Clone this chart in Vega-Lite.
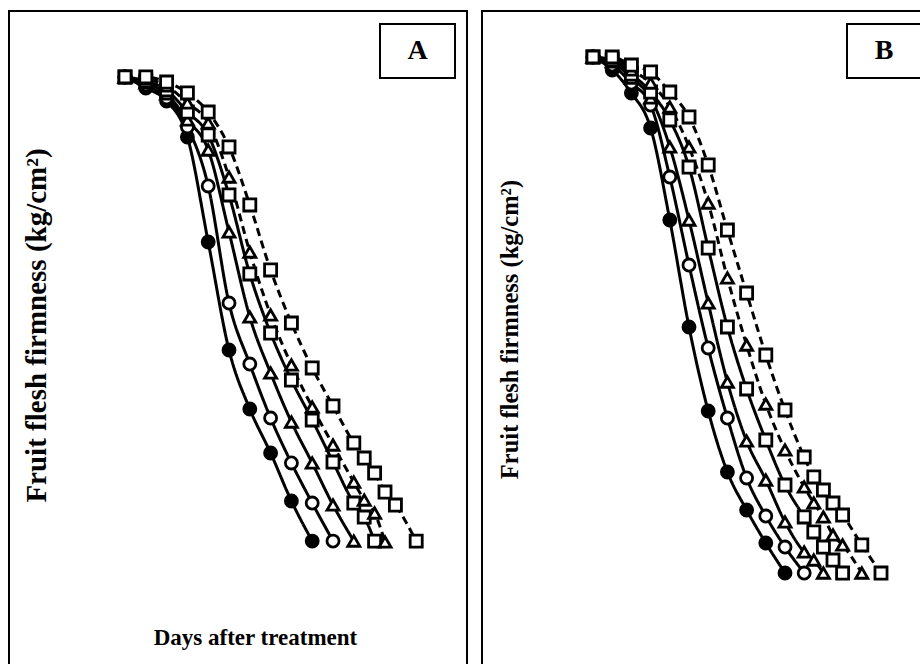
{
  "$schema": "https://vega.github.io/schema/vega-lite/v6.json",
  "padding": {"left": 8, "top": 10, "right": 0, "bottom": 0},
  "background": "white",
  "spacing": 13,
  "config": {
    "view": {"stroke": null},
    "axis": {"grid": false, "domain": false, "ticks": false, "labels": false, "minExtent": 0, "titleFont": "Liberation Serif", "titleFontWeight": "bold", "titleColor": "black"}
  },
  "resolve": {"scale": {"x": "independent", "y": "independent", "shape": "independent", "fill": "independent", "size": "independent", "strokeDash": "independent"}},
  "datasets": {
    "firm": [
      {"panel":"A","series":"S1","day":0,"firmness":8},{"panel":"A","series":"S1","day":2,"firmness":7.838},{"panel":"A","series":"S1","day":4,"firmness":7.647},{"panel":"A","series":"S1","day":6,"firmness":7.118},{"panel":"A","series":"S1","day":8,"firmness":5.574},{"panel":"A","series":"S1","day":10,"firmness":3.985},{"panel":"A","series":"S1","day":12,"firmness":3.118},{"panel":"A","series":"S1","day":14,"firmness":2.471},{"panel":"A","series":"S1","day":16,"firmness":1.765},{"panel":"A","series":"S1","day":18,"firmness":1.176},
      {"panel":"A","series":"S2","day":0,"firmness":8},{"panel":"A","series":"S2","day":2,"firmness":7.882},{"panel":"A","series":"S2","day":4,"firmness":7.691},{"panel":"A","series":"S2","day":6,"firmness":7.265},{"panel":"A","series":"S2","day":8,"firmness":6.397},{"panel":"A","series":"S2","day":10,"firmness":4.676},{"panel":"A","series":"S2","day":12,"firmness":3.779},{"panel":"A","series":"S2","day":14,"firmness":2.985},{"panel":"A","series":"S2","day":16,"firmness":2.324},{"panel":"A","series":"S2","day":18,"firmness":1.735},{"panel":"A","series":"S2","day":20,"firmness":1.176},
      {"panel":"A","series":"S3","day":0,"firmness":8},{"panel":"A","series":"S3","day":2,"firmness":7.912},{"panel":"A","series":"S3","day":4,"firmness":7.75},{"panel":"A","series":"S3","day":6,"firmness":7.368},{"panel":"A","series":"S3","day":8,"firmness":6.926},{"panel":"A","series":"S3","day":10,"firmness":5.721},{"panel":"A","series":"S3","day":12,"firmness":4.471},{"panel":"A","series":"S3","day":14,"firmness":3.647},{"panel":"A","series":"S3","day":16,"firmness":2.926},{"panel":"A","series":"S3","day":18,"firmness":2.324},{"panel":"A","series":"S3","day":20,"firmness":1.706},{"panel":"A","series":"S3","day":22,"firmness":1.176},
      {"panel":"A","series":"S4","day":0,"firmness":8},{"panel":"A","series":"S4","day":2,"firmness":7.941},{"panel":"A","series":"S4","day":4,"firmness":7.809},{"panel":"A","series":"S4","day":6,"firmness":7.485},{"panel":"A","series":"S4","day":8,"firmness":7.147},{"panel":"A","series":"S4","day":10,"firmness":6.265},{"panel":"A","series":"S4","day":12,"firmness":5.103},{"panel":"A","series":"S4","day":14,"firmness":4.235},{"panel":"A","series":"S4","day":16,"firmness":3.544},{"panel":"A","series":"S4","day":18,"firmness":2.956},{"panel":"A","series":"S4","day":20,"firmness":2.338},{"panel":"A","series":"S4","day":22,"firmness":1.735},{"panel":"A","series":"S4","day":23,"firmness":1.529},{"panel":"A","series":"S4","day":24,"firmness":1.176},
      {"panel":"A","series":"S5","day":0,"firmness":8},{"panel":"A","series":"S5","day":2,"firmness":7.971},{"panel":"A","series":"S5","day":4,"firmness":7.868},{"panel":"A","series":"S5","day":6,"firmness":7.618},{"panel":"A","series":"S5","day":8,"firmness":7.324},{"panel":"A","series":"S5","day":10,"firmness":6.529},{"panel":"A","series":"S5","day":12,"firmness":5.426},{"panel":"A","series":"S5","day":14,"firmness":4.5},{"panel":"A","series":"S5","day":16,"firmness":3.765},{"panel":"A","series":"S5","day":18,"firmness":3.147},{"panel":"A","series":"S5","day":20,"firmness":2.588},{"panel":"A","series":"S5","day":22,"firmness":2.044},{"panel":"A","series":"S5","day":23,"firmness":1.779},{"panel":"A","series":"S5","day":24,"firmness":1.588},{"panel":"A","series":"S5","day":25,"firmness":1.162},
      {"panel":"A","series":"S6","day":0,"firmness":8},{"panel":"A","series":"S6","day":2,"firmness":8},{"panel":"A","series":"S6","day":4,"firmness":7.926},{"panel":"A","series":"S6","day":6,"firmness":7.765},{"panel":"A","series":"S6","day":8,"firmness":7.485},{"panel":"A","series":"S6","day":10,"firmness":6.971},{"panel":"A","series":"S6","day":12,"firmness":6.118},{"panel":"A","series":"S6","day":14,"firmness":5.162},{"panel":"A","series":"S6","day":16,"firmness":4.382},{"panel":"A","series":"S6","day":18,"firmness":3.721},{"panel":"A","series":"S6","day":20,"firmness":3.162},{"panel":"A","series":"S6","day":22,"firmness":2.618},{"panel":"A","series":"S6","day":23,"firmness":2.397},{"panel":"A","series":"S6","day":24,"firmness":2.176},{"panel":"A","series":"S6","day":25,"firmness":1.897},{"panel":"A","series":"S6","day":26,"firmness":1.706},{"panel":"A","series":"S6","day":28,"firmness":1.176},
      {"panel":"B","series":"S1","day":0,"firmness":8},{"panel":"B","series":"S1","day":2,"firmness":7.828},{"panel":"B","series":"S1","day":4,"firmness":7.524},{"panel":"B","series":"S1","day":6,"firmness":7.061},{"panel":"B","series":"S1","day":8,"firmness":5.844},{"panel":"B","series":"S1","day":10,"firmness":4.43},{"panel":"B","series":"S1","day":12,"firmness":3.319},{"panel":"B","series":"S1","day":14,"firmness":2.512},{"panel":"B","series":"S1","day":16,"firmness":2.01},{"panel":"B","series":"S1","day":18,"firmness":1.573},{"panel":"B","series":"S1","day":20,"firmness":1.176},
      {"panel":"B","series":"S2","day":0,"firmness":8},{"panel":"B","series":"S2","day":2,"firmness":7.894},{"panel":"B","series":"S2","day":4,"firmness":7.656},{"panel":"B","series":"S2","day":6,"firmness":7.365},{"panel":"B","series":"S2","day":8,"firmness":6.413},{"panel":"B","series":"S2","day":10,"firmness":5.249},{"panel":"B","series":"S2","day":12,"firmness":4.152},{"panel":"B","series":"S2","day":14,"firmness":3.226},{"panel":"B","series":"S2","day":16,"firmness":2.433},{"panel":"B","series":"S2","day":18,"firmness":1.93},{"panel":"B","series":"S2","day":20,"firmness":1.52},{"panel":"B","series":"S2","day":22,"firmness":1.176},
      {"panel":"B","series":"S3","day":0,"firmness":8},{"panel":"B","series":"S3","day":2,"firmness":7.934},{"panel":"B","series":"S3","day":4,"firmness":7.722},{"panel":"B","series":"S3","day":6,"firmness":7.458},{"panel":"B","series":"S3","day":8,"firmness":6.81},{"panel":"B","series":"S3","day":10,"firmness":5.844},{"panel":"B","series":"S3","day":12,"firmness":4.747},{"panel":"B","series":"S3","day":14,"firmness":3.702},{"panel":"B","series":"S3","day":16,"firmness":2.922},{"panel":"B","series":"S3","day":18,"firmness":2.406},{"panel":"B","series":"S3","day":20,"firmness":1.851},{"panel":"B","series":"S3","day":22,"firmness":1.454},{"panel":"B","series":"S3","day":23,"firmness":1.348},{"panel":"B","series":"S3","day":24,"firmness":1.176},
      {"panel":"B","series":"S4","day":0,"firmness":8},{"panel":"B","series":"S4","day":2,"firmness":7.96},{"panel":"B","series":"S4","day":4,"firmness":7.775},{"panel":"B","series":"S4","day":6,"firmness":7.537},{"panel":"B","series":"S4","day":8,"firmness":7.167},{"panel":"B","series":"S4","day":10,"firmness":6.545},{"panel":"B","series":"S4","day":12,"firmness":5.474},{"panel":"B","series":"S4","day":14,"firmness":4.43},{"panel":"B","series":"S4","day":16,"firmness":3.61},{"panel":"B","series":"S4","day":18,"firmness":2.935},{"panel":"B","series":"S4","day":20,"firmness":2.34},{"panel":"B","series":"S4","day":22,"firmness":1.917},{"panel":"B","series":"S4","day":23,"firmness":1.719},{"panel":"B","series":"S4","day":24,"firmness":1.52},{"panel":"B","series":"S4","day":25,"firmness":1.348},{"panel":"B","series":"S4","day":26,"firmness":1.176},
      {"panel":"B","series":"S5","day":0,"firmness":8},{"panel":"B","series":"S5","day":2,"firmness":7.987},{"panel":"B","series":"S5","day":4,"firmness":7.828},{"panel":"B","series":"S5","day":6,"firmness":7.656},{"panel":"B","series":"S5","day":8,"firmness":7.339},{"panel":"B","series":"S5","day":10,"firmness":6.81},{"panel":"B","series":"S5","day":12,"firmness":6.069},{"panel":"B","series":"S5","day":14,"firmness":5.078},{"panel":"B","series":"S5","day":16,"firmness":4.191},{"panel":"B","series":"S5","day":18,"firmness":3.411},{"panel":"B","series":"S5","day":20,"firmness":2.803},{"panel":"B","series":"S5","day":22,"firmness":2.314},{"panel":"B","series":"S5","day":23,"firmness":2.102},{"panel":"B","series":"S5","day":24,"firmness":1.917},{"panel":"B","series":"S5","day":25,"firmness":1.679},{"panel":"B","series":"S5","day":26,"firmness":1.547},{"panel":"B","series":"S5","day":28,"firmness":1.176},
      {"panel":"B","series":"S6","day":0,"firmness":8},{"panel":"B","series":"S6","day":2,"firmness":8},{"panel":"B","series":"S6","day":4,"firmness":7.894},{"panel":"B","series":"S6","day":6,"firmness":7.802},{"panel":"B","series":"S6","day":8,"firmness":7.537},{"panel":"B","series":"S6","day":10,"firmness":7.207},{"panel":"B","series":"S6","day":12,"firmness":6.572},{"panel":"B","series":"S6","day":14,"firmness":5.712},{"panel":"B","series":"S6","day":16,"firmness":4.879},{"panel":"B","series":"S6","day":18,"firmness":4.059},{"panel":"B","series":"S6","day":20,"firmness":3.332},{"panel":"B","series":"S6","day":22,"firmness":2.71},{"panel":"B","series":"S6","day":23,"firmness":2.446},{"panel":"B","series":"S6","day":24,"firmness":2.274},{"panel":"B","series":"S6","day":25,"firmness":2.102},{"panel":"B","series":"S6","day":26,"firmness":1.943},{"panel":"B","series":"S6","day":28,"firmness":1.547},{"panel":"B","series":"S6","day":30,"firmness":1.176}
    ]
  },
  "hconcat": [
    {
      "width": 460,
      "height": 654,
      "layer": [
        {
          "data": {"values": [{}]},
          "mark": {"type": "rect", "filled": false, "stroke": "black", "strokeWidth": 2, "clip": true},
          "encoding": {
            "x": {"datum": -11.154, "type": "quantitative", "scale": {"domain": [-11.25, 32.98], "nice": false, "zero": false}},
            "x2": {"datum": 32.885},
            "y": {"datum": 8.971, "type": "quantitative", "scale": {"domain": [-0.632, 8.985], "nice": false, "zero": false}},
            "y2": {"datum": -3}
          }
        },
        {
          "data": {"name": "firm"},
          "transform": [{"filter": "datum.panel === 'A'"}],
          "mark": {"type": "line", "interpolate": "monotone", "strokeWidth": 3, "color": "black"},
          "encoding": {
            "x": {"field": "day", "type": "quantitative", "scale": {"domain": [-11.25, 32.98], "nice": false, "zero": false},
                  "axis": {"title": "Days after treatment", "titleX": 247, "titleY": -27, "titleAlign": "center", "titleBaseline": "middle", "titleFontSize": 23}},
            "y": {"field": "firmness", "type": "quantitative", "scale": {"domain": [-0.632, 8.985], "nice": false, "zero": false},
                  "axis": {"title": "Fruit flesh firmness (kg/cm²)", "titleX": 28, "titleY": 315, "titleAngle": -90, "titleAlign": "center", "titleBaseline": "middle", "titleFontSize": 29}},
            "detail": {"field": "series", "type": "nominal"},
            "strokeDash": {"field": "series", "type": "nominal", "scale": {"domain": ["S1","S2","S3","S4","S5","S6"], "range": [[1,0],[1,0],[1,0],[1,0],[8,5],[8,5]]}, "legend": null}
          }
        },
        {
          "data": {"name": "firm"},
          "transform": [{"filter": "datum.panel === 'A'"}],
          "mark": {"type": "point", "filled": true, "stroke": "black", "strokeWidth": 2.8, "opacity": 1},
          "encoding": {
            "x": {"field": "day", "type": "quantitative", "scale": {"domain": [-11.25, 32.98], "nice": false, "zero": false},
                  "axis": {"title": "Days after treatment", "titleX": 247, "titleY": -27, "titleAlign": "center", "titleBaseline": "middle", "titleFontSize": 23}},
            "y": {"field": "firmness", "type": "quantitative", "scale": {"domain": [-0.632, 8.985], "nice": false, "zero": false},
                  "axis": {"title": "Fruit flesh firmness (kg/cm²)", "titleX": 28, "titleY": 315, "titleAngle": -90, "titleAlign": "center", "titleBaseline": "middle", "titleFontSize": 29}},
            "shape": {"field": "series", "type": "nominal", "scale": {"domain": ["S1","S2","S3","S4","S5","S6"], "range": ["circle","circle","triangle-up","square","triangle-up","square"]}, "legend": null},
            "fill": {"field": "series", "type": "nominal", "scale": {"domain": ["S1","S2","S3","S4","S5","S6"], "range": ["black","white","white","white","white","white"]}, "legend": null},
            "size": {"field": "series", "type": "nominal", "scale": {"domain": ["S1","S2","S3","S4","S5","S6"], "range": [145,145,190,200,190,200]}, "legend": null}
          }
        },
        {
          "data": {"values": [{}]},
          "mark": {"type": "rect", "fill": "white", "stroke": "black", "strokeWidth": 2},
          "encoding": {
            "x": {"datum": 24.519, "type": "quantitative", "scale": {"domain": [-11.25, 32.98], "nice": false, "zero": false}},
            "x2": {"datum": 31.731},
            "y": {"datum": 8.779, "type": "quantitative", "scale": {"domain": [-0.632, 8.985], "nice": false, "zero": false}},
            "y2": {"datum": 7.985}
          }
        },
        {
          "data": {"values": [{}]},
          "mark": {"type": "text", "text": "A", "font": "Liberation Serif", "fontWeight": "bold", "fontSize": 28, "align": "center", "baseline": "middle", "color": "black"},
          "encoding": {
            "x": {"datum": 28.125, "type": "quantitative", "scale": {"domain": [-11.25, 32.98], "nice": false, "zero": false}},
            "y": {"datum": 8.382, "type": "quantitative", "scale": {"domain": [-0.632, 8.985], "nice": false, "zero": false}}
          }
        }
      ]
    },
    {
      "width": 439,
      "height": 654,
      "layer": [
        {
          "data": {"values": [{}]},
          "mark": {"type": "rect", "filled": false, "stroke": "black", "strokeWidth": 2, "clip": true},
          "encoding": {
            "x": {"datum": -11.5625, "type": "quantitative", "scale": {"domain": [-11.667, 34.0625], "nice": false, "zero": false}},
            "x2": {"datum": 40},
            "y": {"datum": 8.608, "type": "quantitative", "scale": {"domain": [-0.027, 8.6215], "nice": false, "zero": false}},
            "y2": {"datum": -3}
          }
        },
        {
          "data": {"name": "firm"},
          "transform": [{"filter": "datum.panel === 'B'"}],
          "mark": {"type": "line", "interpolate": "monotone", "strokeWidth": 3, "color": "black"},
          "encoding": {
            "x": {"field": "day", "type": "quantitative", "scale": {"domain": [-11.667, 34.0625], "nice": false, "zero": false}, "axis": {"title": null}},
            "y": {"field": "firmness", "type": "quantitative", "scale": {"domain": [-0.027, 8.6215], "nice": false, "zero": false},
                  "axis": {"title": "Fruit flesh firmness (kg/cm²)", "titleX": 29, "titleY": 319, "titleAngle": -90, "titleAlign": "center", "titleBaseline": "middle", "titleFontSize": 24.5}},
            "detail": {"field": "series", "type": "nominal"},
            "strokeDash": {"field": "series", "type": "nominal", "scale": {"domain": ["S1","S2","S3","S4","S5","S6"], "range": [[1,0],[1,0],[1,0],[1,0],[8,5],[8,5]]}, "legend": null}
          }
        },
        {
          "data": {"name": "firm"},
          "transform": [{"filter": "datum.panel === 'B'"}],
          "mark": {"type": "point", "filled": true, "stroke": "black", "strokeWidth": 2.8, "opacity": 1},
          "encoding": {
            "x": {"field": "day", "type": "quantitative", "scale": {"domain": [-11.667, 34.0625], "nice": false, "zero": false}, "axis": {"title": null}},
            "y": {"field": "firmness", "type": "quantitative", "scale": {"domain": [-0.027, 8.6215], "nice": false, "zero": false},
                  "axis": {"title": "Fruit flesh firmness (kg/cm²)", "titleX": 29, "titleY": 319, "titleAngle": -90, "titleAlign": "center", "titleBaseline": "middle", "titleFontSize": 24.5}},
            "shape": {"field": "series", "type": "nominal", "scale": {"domain": ["S1","S2","S3","S4","S5","S6"], "range": ["circle","circle","triangle-up","square","triangle-up","square"]}, "legend": null},
            "fill": {"field": "series", "type": "nominal", "scale": {"domain": ["S1","S2","S3","S4","S5","S6"], "range": ["black","white","white","white","white","white"]}, "legend": null},
            "size": {"field": "series", "type": "nominal", "scale": {"domain": ["S1","S2","S3","S4","S5","S6"], "range": [145,145,190,200,190,200]}, "legend": null}
          }
        },
        {
          "data": {"values": [{}]},
          "mark": {"type": "rect", "fill": "white", "stroke": "black", "strokeWidth": 2, "clip": true},
          "encoding": {
            "x": {"datum": 26.458, "type": "quantitative", "scale": {"domain": [-11.667, 34.0625], "nice": false, "zero": false}},
            "x2": {"datum": 40},
            "y": {"datum": 8.436, "type": "quantitative", "scale": {"domain": [-0.027, 8.6215], "nice": false, "zero": false}},
            "y2": {"datum": 7.722}
          }
        },
        {
          "data": {"values": [{}]},
          "mark": {"type": "text", "text": "B", "font": "Liberation Serif", "fontWeight": "bold", "fontSize": 28, "align": "center", "baseline": "middle", "color": "black"},
          "encoding": {
            "x": {"datum": 30.3125, "type": "quantitative", "scale": {"domain": [-11.667, 34.0625], "nice": false, "zero": false}},
            "y": {"datum": 8.079, "type": "quantitative", "scale": {"domain": [-0.027, 8.6215], "nice": false, "zero": false}}
          }
        }
      ]
    }
  ]
}
